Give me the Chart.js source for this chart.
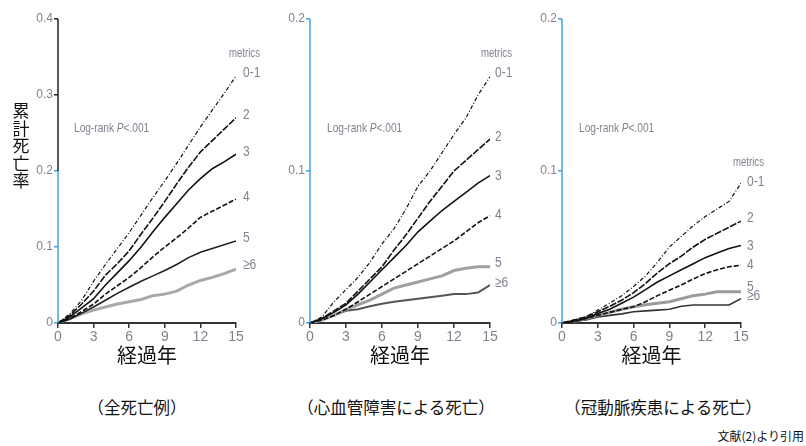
<!DOCTYPE html>
<html>
<head>
<meta charset="utf-8">
<script src="https://cdn.jsdelivr.net/npm/chart.js@4.4.1/dist/chart.umd.min.js"></script>
<style>
  body { margin: 0; background: #fff; }
  #page { position: relative; width: 806px; height: 446px; overflow: hidden; font-family: 'Noto Sans CJK JP', sans-serif; color: #111; }
  canvas { position: absolute; top: 0; }
  .cap { position: absolute; top: 397px; font-size: 16.5px; line-height: 20px; white-space: nowrap; transform: translateX(-50%); }
  .ytitle { position: absolute; left: 12px; top: 101px; width: 18px; font-size: 17px; line-height: 17.6px; text-align: center; }
  .logrank { position: absolute; top: 120px; font-family: 'Liberation Sans', sans-serif; font-size: 13px; line-height: 15px; color: #857f90; white-space: nowrap; transform: scaleX(0.78); transform-origin: left top; }
  .note { position: absolute; right: 2px; top: 429px; font-size: 12px; line-height: 14px; white-space: nowrap; }
</style>
</head>
<body>
<div id="page">
  <canvas id="p1" width="270" height="370" style="left:0px"></canvas>
  <canvas id="p2" width="260" height="370" style="left:270px"></canvas>
  <canvas id="p3" width="276" height="370" style="left:530px"></canvas>

  <div class="ytitle">累<br>計<br>死<br>亡<br>率</div>
  <div class="logrank" style="left:74px">Log-rank <i>P</i>&lt;.001</div>
  <div class="logrank" style="left:327px">Log-rank <i>P</i>&lt;.001</div>
  <div class="logrank" style="left:579px">Log-rank <i>P</i>&lt;.001</div>

  <div class="cap" style="left:137px">（全死亡例）</div>
  <div class="cap" style="left:396px">（心血管障害による死亡）</div>
  <div class="cap" style="left:663px">（冠動脈疾患による死亡）</div>
  <div class="note">文献(2)より引用</div>
</div>

<script>
// follow-up years and the groups (number of ideal metrics)
const years = [0, 1, 2, 3, 4, 5, 6, 7, 8, 9, 10, 11, 12, 13, 14, 15];
const metricGroups = ["0-1", "2", "3", "4", "5", "≥6"];

const xTicks = [0, 3, 6, 9, 12, 15];
const yTicksAll = [0, 0.1, 0.2, 0.3, 0.4];
const yTicksCause = [0, 0.1, 0.2];

// all-cause mortality
const allDeath01 = [0, .012, .030, .055, .077, .098, .119, .142, .165, .187, .210, .234, .258, .280, .302, .325];
const allDeath2  = [0, .010, .025, .042, .063, .078, .095, .117, .138, .160, .183, .205, .225, .240, .255, .270];
const allDeath3  = [0, .008, .020, .032, .050, .066, .082, .100, .120, .139, .157, .175, .190, .203, .212, .222];
const allDeath4  = [0, .006, .015, .025, .038, .049, .060, .073, .087, .100, .112, .125, .139, .147, .155, .163];
const allDeath5  = [0, .005, .013, .021, .030, .039, .047, .055, .062, .069, .077, .086, .093, .098, .103, .108];
const allDeath6  = [0, .006, .012, .017, .021, .025, .028, .031, .036, .038, .042, .050, .056, .060, .065, .071];

// cardiovascular death
const cvdDeath01 = [0, .004, .014, .022, .030, .040, .052, .062, .075, .090, .100, .112, .124, .135, .150, .162];
const cvdDeath2  = [0, .003, .008, .013, .021, .029, .037, .048, .058, .069, .080, .090, .100, .107, .114, .121];
const cvdDeath3  = [0, .003, .007, .012, .019, .027, .035, .043, .051, .060, .067, .074, .080, .086, .092, .097];
const cvdDeath4  = [0, .002, .005, .009, .014, .019, .024, .029, .034, .039, .044, .049, .054, .060, .066, .0705];
const cvdDeath5  = [0, .002, .005, .009, .012, .015, .019, .023, .025, .027, .029, .031, .0345, .036, .037, .037];
const cvdDeath6  = [0, .002, .005, .008, .009, .011, .0127, .014, .015, .016, .017, .018, .019, .019, .020, .025];

// coronary heart disease death
const chdDeath01 = [0, .002, .004, .0085, .013, .018, .024, .031, .040, .050, .057, .064, .070, .075, .080, .092];
const chdDeath2  = [0, .002, .004, .0074, .011, .015, .020, .026, .033, .039, .044, .050, .055, .059, .063, .067];
const chdDeath3  = [0, .001, .003, .0063, .009, .013, .017, .022, .027, .031, .035, .039, .043, .046, .049, .051];
const chdDeath4  = [0, .001, .003, .005, .007, .009, .0107, .014, .018, .0216, .025, .029, .0325, .035, .037, .038];
const chdDeath5  = [0, .001, .003, .005, .007, .009, .0107, .012, .013, .014, .016, .018, .019, .0205, .0205, .0205];
const chdDeath6  = [0, .001, .002, .004, .005, .006, .0074, .008, .0085, .009, .011, .0118, .0118, .0118, .0118, .016];

const sans = "'Liberation Sans', sans-serif";
const labelColor = "#857f90";
const axisBlue = "#3fa3e6";

const baseStyles = [
  { borderColor: "#111", borderWidth: 1.2, borderDash: [4, 2, 1, 2] },
  { borderColor: "#111", borderWidth: 1.6, borderDash: [7, 1.5] },
  { borderColor: "#111", borderWidth: 1.6 },
  { borderColor: "#111", borderWidth: 1.6, borderDash: [5, 2] },
  { borderColor: "#222", borderWidth: 1.6 },
  { borderColor: "#a8a8a8", borderWidth: 3 },
];

// condensed text: squeeze horizontally around the left edge
function narrowText(ctx, text, x, y, size) {
  ctx.save();
  ctx.translate(x, y);
  ctx.scale(0.8, 1);
  ctx.font = size + "px " + sans;
  ctx.fillText(text, 0, 0);
  ctx.restore();
}

// labels at the end of each curve
const endLabels = {
  id: "endLabels",
  afterDatasetsDraw(chart, args, opts) {
    const ctx = chart.ctx;
    const right = chart.chartArea.right;
    ctx.save();
    ctx.fillStyle = labelColor;
    ctx.textAlign = "left";
    ctx.textBaseline = "middle";
    chart.data.datasets.forEach((ds, i) => {
      const pts = chart.getDatasetMeta(i).data;
      const y = pts[pts.length - 1].y + (opts.nudge[i] || 0);
      narrowText(ctx, ds.label, right + opts.dx, y, 15);
      if (i === 0) narrowText(ctx, "metrics", right + opts.dx - 14, y - 19, 12);
    });
    ctx.restore();
  },
};

// y axis line: black above blueBelow, blue under it
const yAxisLine = {
  id: "yAxisLine",
  afterDraw(chart, args, opts) {
    const { ctx, chartArea } = chart;
    const split = chart.scales.y.getPixelForValue(opts.blueBelow);
    ctx.save();
    ctx.lineWidth = 1.5;
    ctx.strokeStyle = "#222";
    ctx.beginPath();
    ctx.moveTo(chartArea.left, chartArea.top);
    ctx.lineTo(chartArea.left, split);
    ctx.stroke();
    ctx.strokeStyle = axisBlue;
    ctx.beginPath();
    ctx.moveTo(chartArea.left, split);
    ctx.lineTo(chartArea.left, chartArea.bottom);
    ctx.stroke();
    ctx.restore();
  },
};

function makePanel(id, series, yMax, yTicks, cfg) {
  const datasets = series.map((vals, i) => ({
    label: metricGroups[i],
    data: years.map((yr, k) => ({ x: yr, y: vals[k] })),
    pointRadius: 0,
    tension: 0,
    fill: false,
    ...baseStyles[i],
    ...(cfg.styles[i] || {}),
  }));

  new Chart(document.getElementById(id), {
    type: "line",
    data: { datasets: datasets },
    plugins: [endLabels, yAxisLine],
    options: {
      responsive: false,
      animation: false,
      layout: { padding: { top: 19, right: cfg.padRight, bottom: 0, left: 0 } },
      plugins: {
        legend: { display: false },
        tooltip: { enabled: false },
        endLabels: { dx: cfg.dx, nudge: cfg.nudge },
        yAxisLine: { blueBelow: cfg.blueBelow },
      },
      scales: {
        x: {
          type: "linear",
          min: 0,
          max: 15,
          afterBuildTicks: (s) => { s.ticks = xTicks.map((v) => ({ value: v })); },
          afterFit: (s) => { s.height = 47; },
          ticks: { color: labelColor, font: { family: sans, size: 14 }, padding: 1, maxRotation: 0 },
          grid: { drawOnChartArea: false, tickLength: 5, color: "#333", lineWidth: 1.5 },
          border: { color: "#333", width: 2 },
          title: {
            display: true,
            text: "経過年",
            color: "#111",
            font: { family: "'Noto Sans CJK JP', sans-serif", size: 20 },
            padding: { top: 0, bottom: 3 },
          },
        },
        y: {
          min: 0,
          max: yMax,
          afterBuildTicks: (s) => { s.ticks = yTicks.map((v) => ({ value: v })); },
          afterFit: (s) => { s.width = cfg.axisLeft; },
          ticks: {
            color: labelColor,
            font: { family: sans, size: 12 },
            padding: 1,
            callback: (v) => (v === 0 ? "0" : v.toFixed(1)),
          },
          grid: {
            drawOnChartArea: false,
            tickLength: 4,
            lineWidth: 1.5,
            color: (c) => (c.tick && c.tick.value > cfg.blueBelow + 1e-9 ? "#222" : axisBlue),
          },
          border: { display: false },
        },
      },
    },
  });
}

makePanel("p1", [allDeath01, allDeath2, allDeath3, allDeath4, allDeath5, allDeath6], 0.4, yTicksAll, {
  axisLeft: 58, padRight: 34, dx: 7, blueBelow: 0.2,
  nudge: [-3, -3, -2, -2, -3, -4],
  styles: [],
});

makePanel("p2", [cvdDeath01, cvdDeath2, cvdDeath3, cvdDeath4, cvdDeath5, cvdDeath6], 0.2, yTicksCause, {
  axisLeft: 40, padRight: 40, dx: 5, blueBelow: 0.2,
  nudge: [-4, -2, 0, -1, -4, -2],
  styles: [{}, {}, {}, {}, { borderColor: "#a0a0a0", borderWidth: 3 }, { borderColor: "#555", borderWidth: 2 }],
});

makePanel("p3", [chdDeath01, chdDeath2, chdDeath3, chdDeath4, chdDeath5, chdDeath6], 0.2, yTicksCause, {
  axisLeft: 32, padRight: 65, dx: 6, blueBelow: 0.2,
  nudge: [-1, -3, 0, 0, -5, -3],
  styles: [{}, {}, {}, {}, { borderColor: "#9a9a9a", borderWidth: 3 }, { borderColor: "#333", borderWidth: 1.6 }],
});
</script>
</body>
</html>
